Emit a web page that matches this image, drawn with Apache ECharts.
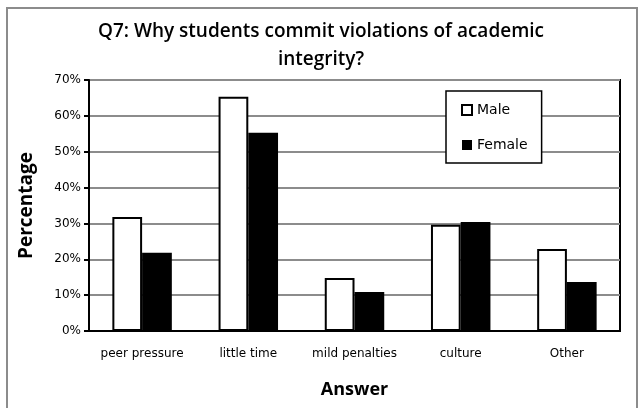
<!DOCTYPE html>
<html>
<head>
<meta charset="utf-8">
<script src="https://cdn.jsdelivr.net/npm/echarts@6/dist/echarts.min.js"></script>
<style>
  html, body { margin: 0; padding: 0; background: #fff; }
  #chart { width: 642px; height: 408px; }
</style>
</head>
<body>
<div id="chart"></div>
<script>
// answers on the x axis
const categories = ["peer pressure", "little time", "mild penalties", "culture", "Other"];
// percentages
const maleValues = [31.8, 65.3, 14.8, 29.6, 22.9];
const femaleValues = [21.8, 55.3, 10.9, 30.4, 13.7];
const yTicks = [0, 10, 20, 30, 40, 50, 60, 70];

const labelFont = "'DejaVu Sans', sans-serif";
const headFont = "'Open Sans', sans-serif";

const chart = echarts.init(document.getElementById("chart"));

const option = {
  backgroundColor: "#fff",
  animation: false,
  textStyle: { fontFamily: labelFont },
  graphic: [
    {
      // outer chart frame
      type: "rect",
      shape: { x: 7, y: 8, width: 630, height: 420 },
      style: { fill: "none", stroke: "#8c8c8c", lineWidth: 2 }
    }
  ],
  title: {
    text: "Q7: Why students commit violations of academic\nintegrity?",
    left: "center",
    top: 13,
    textStyle: {
      fontFamily: headFont,
      fontSize: 19,
      fontWeight: 600,
      color: "#000",
      lineHeight: 28
    }
  },
  legend: {
    orient: "vertical",
    left: 446,
    top: 91,
    padding: [12, 14, 11, 15],
    itemGap: 21,
    itemWidth: 10,
    itemHeight: 10,
    borderColor: "#000",
    borderWidth: 1.5,
    backgroundColor: "#fff",
    icon: "rect",
    textStyle: { fontFamily: labelFont, fontSize: 14, color: "#000" },
    data: ["Male", "Female"]
  },
  grid: {
    left: 89,
    right: 22,
    top: 80,
    bottom: 77,
    show: true,
    borderColor: "#000",
    borderWidth: 2,
    containLabel: false
  },
  xAxis: {
    type: "category",
    data: categories,
    name: "Answer",
    nameLocation: "middle",
    nameGap: 50,
    nameTextStyle: { fontFamily: headFont, fontSize: 18, fontWeight: "bold", color: "#000" },
    axisLine: { lineStyle: { color: "#000", width: 2 } },
    axisTick: { show: false },
    axisLabel: { interval: 0, hideOverlap: false, fontFamily: labelFont, fontSize: 12, color: "#000", margin: 17 }
  },
  yAxis: {
    type: "value",
    min: yTicks[0],
    max: yTicks[yTicks.length - 1],
    interval: 10,
    name: "Percentage",
    nameLocation: "middle",
    nameGap: 53,
    nameTextStyle: { fontFamily: headFont, fontSize: 19, fontWeight: "bold", color: "#000" },
    axisLine: { show: true, lineStyle: { color: "#000", width: 2 } },
    axisTick: { show: true, length: 5, lineStyle: { color: "#000", width: 2 } },
    axisLabel: { fontFamily: labelFont, fontSize: 12, color: "#000", margin: 8, formatter: "{value}%" },
    splitLine: { show: true, lineStyle: { color: "#8c8c8c", width: 2 } }
  },
  series: [
    {
      name: "Male",
      type: "bar",
      data: maleValues,
      barWidth: "28%",
      barGap: "0%",
      itemStyle: { color: "#fff", borderColor: "#000", borderWidth: 2 }
    },
    {
      name: "Female",
      type: "bar",
      data: femaleValues,
      barWidth: "28%",
      itemStyle: { color: "#000", borderColor: "#000", borderWidth: 0 }
    }
  ]
};

chart.setOption(option);
</script>
</body>
</html>
